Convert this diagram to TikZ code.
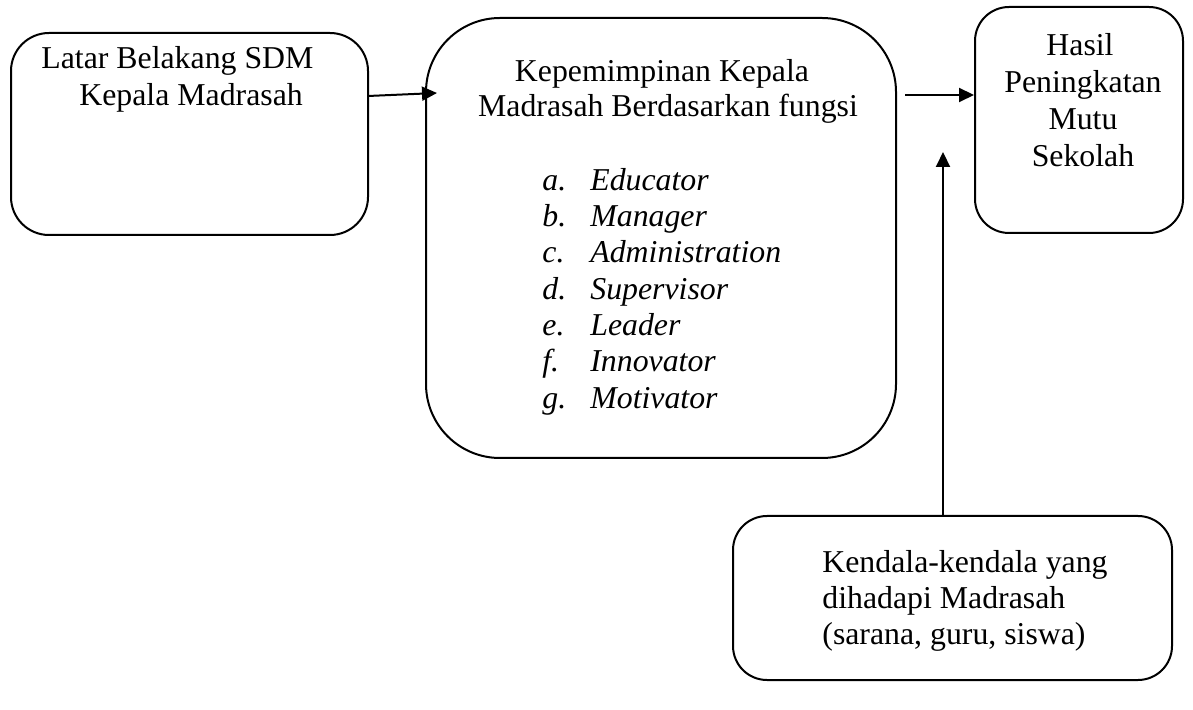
\documentclass[tikz,border=0pt]{standalone}
\usepackage{fontspec}
\setmainfont{Liberation Serif}
\usetikzlibrary{arrows.meta, positioning, calc}
\tikzset{
  >={Triangle[length=7.5pt, width=7pt]},
  wire/.style ={line width=1pt},
  box/.style  ={rectangle, draw, line width=1pt, inner sep=0pt},
  txt/.style  ={inner sep=0pt, anchor=base, font=\fontsize{15.9}{18}\selectfont},
  txtl/.style ={txt, anchor=base west},
  item/.style ={txtl, font=\fontsize{15.9}{18}\selectfont\itshape},
}

\begin{document}
\begin{tikzpicture}[x=0.5pt, y=-0.5pt]
  \useasboundingbox (0,0) rectangle (1193,710);
  % --- boxes ----------------------------------------------------------------
  \node[box, rounded corners=19pt, minimum width=178.5pt, minimum height=101pt] (latar) at (189.5,134)  {};
  \node[box, rounded corners=37pt, minimum width=235pt,   minimum height=220pt] (kepem) at (661,238)    {};
  \node[box, rounded corners=17pt, minimum width=104pt,   minimum height=113pt] (hasil) at (1079,120)   {};
  \node[box, rounded corners=17pt, minimum width=219.5pt, minimum height=82pt]  (kendala) at (952.5,598) {};

  % --- texts ----------------------------------------------------------------
  \node[txtl] (t1a) at (41,69)  {Latar Belakang SDM};
  \node[txtl] (t1b) at (79,106) {Kepala Madrasah};

  \node[txt] (t2a) at (662,82)  {Kepemimpinan Kepala};
  \node[txt] (t2b) at (668,117) {Madrasah Berdasarkan fungsi};
  \foreach \l/\t [count=\i] in {a/Educator, b/Manager, c/Administration,
      d/Supervisor, e/Leader, f/Innovator, g/Motivator}
    \node[item] (f\l) at (542,154+36.3*\i) {\makebox[24pt][l]{\l.}\t};

  \node[txt] (t3a) at (1080,56)  {Hasil};
  \node[txt] (t3b) at (1083,93)  {Peningkatan};
  \node[txt] (t3c) at (1083,130) {Mutu};
  \node[txt] (t3d) at (1083,167) {Sekolah};

  \node[txtl] (t4a) at (822,572) {Kendala-kendala yang};
  \node[txtl] (t4b) at (822,608) {dihadapi Madrasah};
  \node[txtl] (t4c) at (822,644) {(sarana, guru, siswa)};

  % --- arrows ---------------------------------------------------------------
  \coordinate (a1) at (368,96);
  \coordinate (a2) at (437,93);
  \coordinate (a3) at (905,95);
  \coordinate (a4) at (943,152);
  \draw[wire,->] (a1) -- (a2);
  \draw[wire,->] (a3) -- (a3 -| hasil.west);
  \draw[wire,->] (a4 |- kendala.north) -- (a4);   % constraints up to outcome
\end{tikzpicture}
\end{document}
